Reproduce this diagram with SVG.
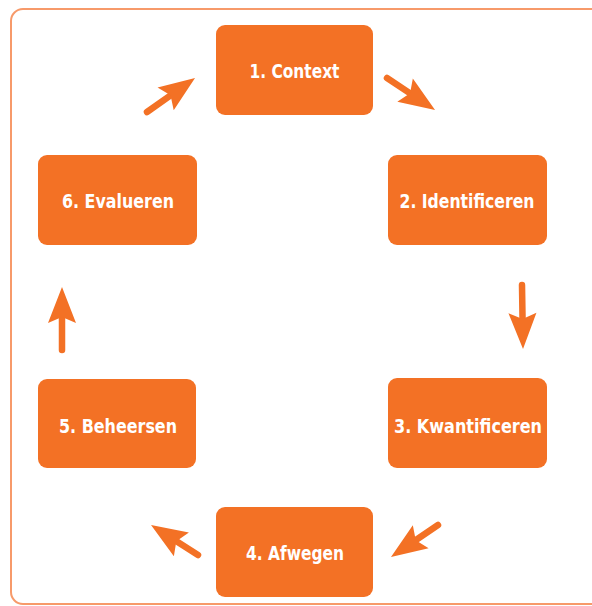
<svg xmlns="http://www.w3.org/2000/svg" width="592" height="606" viewBox="0 0 592 606">
<style>
.node rect{fill:#f37125;}
.node text{fill:#ffffff;font-family:"DejaVu Sans Condensed","DejaVu Sans","Liberation Sans",sans-serif;font-stretch:condensed;font-weight:bold;font-size:19.5px;text-anchor:middle;}
.conn line{stroke:#f37125;stroke-width:6.5;stroke-linecap:round;}
</style>
<defs>
<marker id="ah" markerUnits="userSpaceOnUse" markerWidth="60" markerHeight="40" viewBox="-20 -20 60 40" refX="0" refY="0" orient="auto" overflow="visible">
<path d="M20,0 L-16,-14 L-10,0 L-16,14 Z" fill="#f37125"/>
</marker>
</defs>
<rect x="11" y="9" width="600" height="595" rx="12" fill="#ffffff" stroke="#f79a6a" stroke-width="2"/>
<g id="n1" class="node"><rect x="216" y="25" width="157" height="90" rx="9"/><text x="294.5" y="77.5" textLength="90" lengthAdjust="spacingAndGlyphs">1. Context</text></g>
<g id="n2" class="node"><rect x="388" y="155" width="159" height="90" rx="9"/><text x="467" y="207.5" textLength="135" lengthAdjust="spacingAndGlyphs">2. Identificeren</text></g>
<g id="n3" class="node"><rect x="388" y="378" width="159" height="90" rx="9"/><text x="468" y="432.5" textLength="148" lengthAdjust="spacingAndGlyphs">3. Kwantificeren</text></g>
<g id="n4" class="node"><rect x="216" y="507" width="157" height="90" rx="9"/><text x="295" y="559.5" textLength="98" lengthAdjust="spacingAndGlyphs">4. Afwegen</text></g>
<g id="n5" class="node"><rect x="38" y="379" width="158" height="89" rx="9"/><text x="118" y="432.5" textLength="118" lengthAdjust="spacingAndGlyphs">5. Beheersen</text></g>
<g id="n6" class="node"><rect x="38" y="155" width="159" height="90" rx="9"/><text x="118" y="207.5" textLength="112" lengthAdjust="spacingAndGlyphs">6. Evalueren</text></g>
<g id="connectors" class="conn">
<line x1="147" y1="112" x2="178.7" y2="89.6" marker-end="url(#ah)"/>
<line x1="387" y1="78" x2="418.4" y2="98.9" marker-end="url(#ah)"/>
<line x1="522" y1="285" x2="522.7" y2="329" marker-end="url(#ah)"/>
<line x1="438" y1="525" x2="407.5" y2="545.8" marker-end="url(#ah)"/>
<line x1="198" y1="555" x2="167.9" y2="535.8" marker-end="url(#ah)"/>
<line x1="62" y1="350" x2="62" y2="307" marker-end="url(#ah)"/>
</g>
</svg>
